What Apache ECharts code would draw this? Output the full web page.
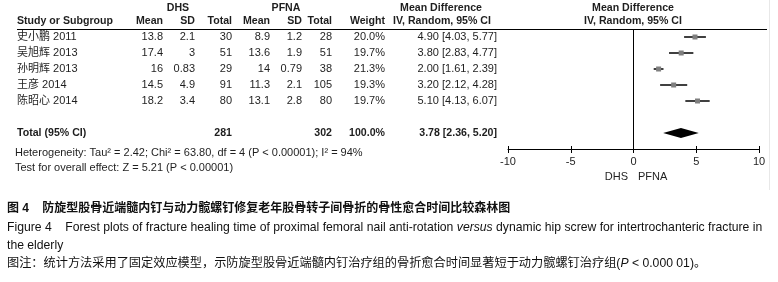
<!DOCTYPE html>
<html>
<head>
<meta charset="utf-8">
<script src="https://cdn.jsdelivr.net/npm/echarts@6/dist/echarts.min.js"></script>
<style>
  html, body { margin: 0; padding: 0; background: #fff; }
  #main { width: 778px; height: 282px; }
</style>
</head>
<body>
<div id="main"></div>
<script>
// study rows
var studies = ["史小鹏 2011", "吴旭辉 2013", "孙明辉 2013", "王彦 2014", "陈昭心 2014"];
var dhsMean = [13.8, 17.4, 16, 14.5, 18.2];
var dhsSD = [2.1, 3, 0.83, 4.9, 3.4];
var dhsTotal = [30, 51, 29, 91, 80];
var pfnaMean = [8.9, 13.6, 14, 11.3, 13.1];
var pfnaSD = [1.2, 1.9, 0.79, 2.1, 2.8];
var pfnaTotal = [28, 51, 38, 105, 80];
var weight = [20.0, 19.7, 21.3, 19.3, 19.7];
var md = [4.90, 3.80, 2.00, 3.20, 5.10];
var ciLow = [4.03, 2.83, 1.61, 2.12, 4.13];
var ciHigh = [5.77, 4.77, 2.39, 4.28, 6.07];
// pooled
var totalDhs = 281;
var totalPfna = 302;
var totalWeight = 100.0;
var pooled = [3.78, 2.36, 5.20];
// no-effect line
var nullLine = [[0, -0.5], [0, 7]];

var FONT = '"Liberation Sans", "Noto Sans CJK SC", sans-serif';
var TXT = "#1e1e1e";
var POOLED_ROW = 6;

function txt(x, y, s, align, bold) {
  return {
    type: "text",
    style: {
      x: x, y: y, text: s, fill: TXT,
      fontSize: bold ? 10.6 : 11, fontFamily: FONT, fontWeight: bold ? "bold" : "normal",
      align: align || "left", verticalAlign: "middle"
    }
  };
}

var myChart = echarts.init(document.getElementById("main"));

var rowData = studies.map(function (s, i) {
  return [md[i], ciLow[i], ciHigh[i], i];
});

var option = {
  backgroundColor: "#fff",
  animation: false,
  grid: { left: 508, right: 19, top: 29, height: 120 },
  xAxis: [
    {
      type: "value", min: -10, max: 10, interval: 5,
      axisLine: { show: true, onZero: false, lineStyle: { color: "#000", width: 1 } },
      axisTick: { show: true, length: 4, lineStyle: { color: "#000" } },
      axisLabel: { color: TXT, fontSize: 11, fontFamily: FONT, margin: 7 },
      splitLine: { show: false }
    },
    {
      type: "value", min: -10, max: 10, interval: 5, position: "bottom",
      axisLine: { show: false, onZero: false },
      axisTick: { show: true, inside: true, length: 3, lineStyle: { color: "#000" } },
      axisLabel: { show: false },
      splitLine: { show: false }
    }
  ],
  yAxis: { type: "value", min: -0.5, max: 7, inverse: true, show: false },
  series: [
    {
      // line of no effect
      type: "line",
      data: nullLine,
      symbol: "none",
      silent: true,
      lineStyle: { color: "#000", width: 1 }
    },
    {
      // study estimates with CI
      type: "custom",
      data: rowData,
      silent: true,
      renderItem: function (params, api) {
        var c = api.coord([api.value(0), api.value(3)]);
        var l = api.coord([api.value(1), api.value(3)]);
        var h = api.coord([api.value(2), api.value(3)]);
        var s = 5;
        return {
          type: "group",
          children: [
            { type: "line", shape: { x1: l[0], y1: c[1], x2: h[0], y2: c[1] },
              style: { stroke: "#000", lineWidth: 1.5 } },
            { type: "rect", shape: { x: c[0] - s / 2, y: c[1] - s / 2, width: s, height: s },
              style: { fill: "#7f7f7f" } }
          ]
        };
      }
    },
    {
      // pooled diamond
      type: "custom",
      data: [[pooled[0], pooled[1], pooled[2], POOLED_ROW]],
      silent: true,
      renderItem: function (params, api) {
        var c = api.coord([api.value(0), api.value(3)]);
        var l = api.coord([api.value(1), api.value(3)]);
        var h = api.coord([api.value(2), api.value(3)]);
        var hh = 5;
        return {
          type: "polygon",
          shape: { points: [[l[0], c[1]], [c[0], c[1] - hh], [h[0], c[1]], [c[0], c[1] + hh]] },
          style: { fill: "#000" }
        };
      }
    },
    {
      // table rows
      type: "custom",
      data: rowData,
      silent: true,
      clip: false,
      renderItem: function (params, api) {
        var i = params.dataIndex;
        var y = api.coord([0, api.value(3)])[1];
        return {
          type: "group",
          children: [
            txt(17, y, studies[i], "left"),
            txt(163, y, String(dhsMean[i]), "right"),
            txt(195, y, String(dhsSD[i]), "right"),
            txt(232, y, String(dhsTotal[i]), "right"),
            txt(270, y, String(pfnaMean[i]), "right"),
            txt(302, y, String(pfnaSD[i]), "right"),
            txt(332, y, String(pfnaTotal[i]), "right"),
            txt(385, y, weight[i].toFixed(1) + "%", "right"),
            txt(497, y, md[i].toFixed(2) + " [" + ciLow[i].toFixed(2) + ", " + ciHigh[i].toFixed(2) + "]", "right")
          ]
        };
      }
    },
    {
      // pooled row text
      type: "custom",
      data: [[pooled[0], pooled[1], pooled[2], POOLED_ROW]],
      silent: true,
      clip: false,
      renderItem: function (params, api) {
        var y = api.coord([0, api.value(3)])[1];
        return {
          type: "group",
          children: [
            txt(17, y, "Total (95% CI)", "left", true),
            txt(232, y, String(totalDhs), "right", true),
            txt(332, y, String(totalPfna), "right", true),
            txt(385, y, totalWeight.toFixed(1) + "%", "right", true),
            txt(497, y, pooled[0].toFixed(2) + " [" + pooled[1].toFixed(2) + ", " + pooled[2].toFixed(2) + "]", "right", true)
          ]
        };
      }
    }
  ],
  graphic: [
    // header
    txt(178, 8, "DHS", "center", true),
    txt(286, 8, "PFNA", "center", true),
    txt(441, 8, "Mean Difference", "center", true),
    txt(633, 8, "Mean Difference", "center", true),
    txt(17, 21, "Study or Subgroup", "left", true),
    txt(163, 21, "Mean", "right", true),
    txt(195, 21, "SD", "right", true),
    txt(232, 21, "Total", "right", true),
    txt(270, 21, "Mean", "right", true),
    txt(302, 21, "SD", "right", true),
    txt(332, 21, "Total", "right", true),
    txt(385, 21, "Weight", "right", true),
    txt(393, 21, "IV, Random, 95% CI", "left", true),
    txt(633, 21, "IV, Random, 95% CI", "center", true),
    {
      type: "line", shape: { x1: 17, y1: 29.5, x2: 767, y2: 29.5 },
      style: { stroke: "#000", lineWidth: 1 }
    },
    {
      type: "line", shape: { x1: 769.5, y1: 0, x2: 769.5, y2: 190 },
      style: { stroke: "#e8e8e8", lineWidth: 1 }
    },
    txt(15, 153, "Heterogeneity: Tau\u00b2 = 2.42; Chi\u00b2 = 63.80, df = 4 (P < 0.00001); I\u00b2 = 94%", "left"),
    txt(15, 168, "Test for overall effect: Z = 5.21 (P < 0.00001)", "left"),
    txt(628, 177, "DHS", "right"),
    txt(638, 177, "PFNA", "left"),
    // caption
    {
      type: "text",
      style: {
        x: 7, y: 209, verticalAlign: "middle", fill: "#111",
        text: "图 4    防旋型股骨近端髓内钉与动力髋螺钉修复老年股骨转子间骨折的骨性愈合时间比较森林图",
        fontSize: 12, fontWeight: "bold", fontFamily: FONT
      }
    },
    {
      type: "text",
      style: {
        x: 7, y: 228, verticalAlign: "middle", fill: "#111",
        text: "Figure 4    Forest plots of fracture healing time of proximal femoral nail anti-rotation {i|versus} dynamic hip screw for intertrochanteric fracture in",
        fontSize: 12.2, fontFamily: FONT,
        rich: { i: { fontStyle: "italic", fontSize: 12.2, fontFamily: FONT, fill: "#111" } }
      }
    },
    {
      type: "text",
      style: {
        x: 7, y: 246, verticalAlign: "middle", fill: "#111",
        text: "the elderly", fontSize: 12.2, fontFamily: FONT
      }
    },
    {
      type: "text",
      style: {
        x: 7, y: 264, verticalAlign: "middle", fill: "#111",
        text: "图注：统计方法采用了固定效应模型，示防旋型股骨近端髓内钉治疗组的骨折愈合时间显著短于动力髋螺钉治疗组({i|P} < 0.000 01)。",
        fontSize: 12.2, fontFamily: FONT,
        rich: { i: { fontStyle: "italic", fontSize: 12.2, fontFamily: FONT, fill: "#111" } }
      }
    }
  ]
};

myChart.setOption(option);
</script>
</body>
</html>
